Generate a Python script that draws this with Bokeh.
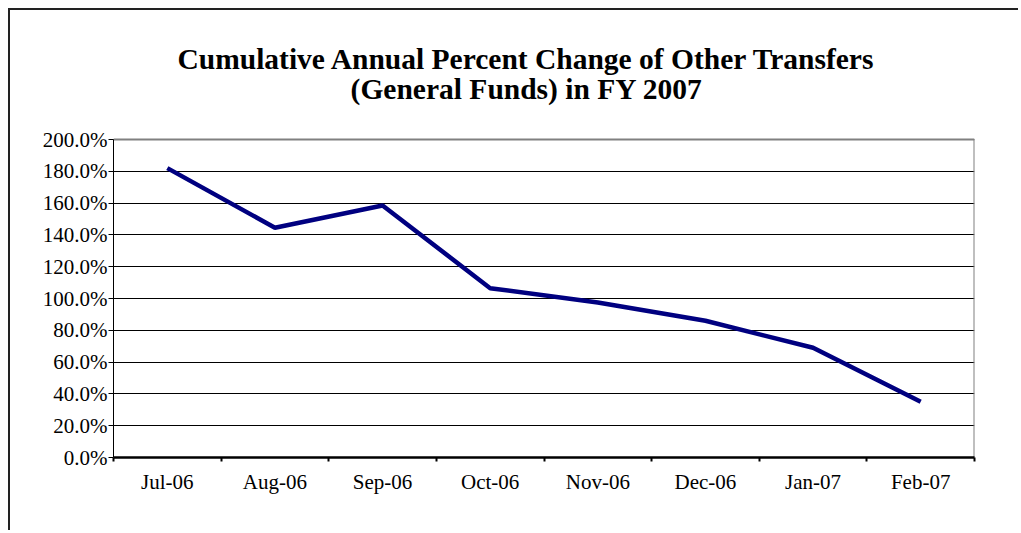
from bokeh.plotting import figure
from bokeh.models import Range1d, FixedTicker, PrintfTickFormatter, Label
from bokeh.embed import file_html
from bokeh.resources import INLINE

months = ["Jul-06", "Aug-06", "Sep-06", "Oct-06", "Nov-06", "Dec-06", "Jan-07", "Feb-07"]
pct_change = [182.0, 144.5, 158.5, 106.5, 97.5, 86.0, 69.0, 35.0]
y_ticks = [0, 20, 40, 60, 80, 100, 120, 140, 160, 180, 200]
title_lines = ["Cumulative Annual Percent Change of Other Transfers", "(General Funds) in FY 2007"]

SERIF = "Liberation Serif"

n = len(months)
y_max = y_ticks[-1]
xs = [i + 0.5 for i in range(n)]

# the frame extends above the value area so the title can live inside it
PX_PER_UNIT = 318 / y_max
top_extent = 447 / PX_PER_UNIT

p = figure(width=1010, height=522,
           x_range=Range1d(0, n), y_range=Range1d(0, top_extent),
           output_backend="svg", toolbar_location=None,
           min_border_left=103, min_border_right=46,
           min_border_top=0, min_border_bottom=75)
p.styles = {"border-left": "2px solid #222", "border-top": "2px solid #222",
            "margin-left": "8px", "margin-top": "8px"}

p.background_fill_color = "white"
p.border_fill_color = "white"
p.outline_line_color = None

# plot-area border (gray top and right edges)
p.segment(x0=[0, n], y0=[y_max, 0], x1=[n, n], y1=[y_max, y_max],
          line_color="#808080", line_width=2)

p.line(xs, pct_change, line_color="#000080", line_width=4.5)

# x axis
xa = p.xaxis[0]
xa.ticker = FixedTicker(ticks=xs, minor_ticks=list(range(n + 1)))
xa.major_label_overrides = {x: m for x, m in zip(xs, months)}
xa.major_tick_line_color = None
xa.major_tick_out = 0
xa.major_tick_in = 0
xa.minor_tick_out = 4
xa.minor_tick_in = 0
xa.minor_tick_line_width = 2
xa.minor_tick_line_color = "black"
xa.axis_line_color = "black"
xa.axis_line_width = 2.5
xa.major_label_text_font = SERIF
xa.major_label_text_font_size = "21px"
xa.major_label_text_color = "black"
xa.major_label_standoff = 8

# y axis
ya = p.yaxis[0]
ya.ticker = FixedTicker(ticks=y_ticks)
ya.formatter = PrintfTickFormatter(format="%.1f%%")
ya.bounds = (0, y_max)
ya.major_tick_out = 5
ya.major_tick_in = 0
ya.major_tick_line_color = "black"
ya.minor_tick_line_color = None
ya.axis_line_color = "black"
ya.axis_line_width = 1
ya.major_label_text_font = SERIF
ya.major_label_text_font_size = "21px"
ya.major_label_text_color = "black"
ya.major_label_standoff = 1

p.xgrid.visible = False
p.ygrid.grid_line_color = "black"
p.ygrid.grid_line_width = 1

for line_text, yy in zip(title_lines, [250.8, 231.9]):
    p.add_layout(Label(x=3.84, y=yy, text=line_text, text_align="center",
                       text_baseline="alphabetic", text_font=SERIF,
                       text_font_size="29.5px", text_font_style="bold",
                       text_color="black"))

open("out.html", "w").write(file_html(p, INLINE))
